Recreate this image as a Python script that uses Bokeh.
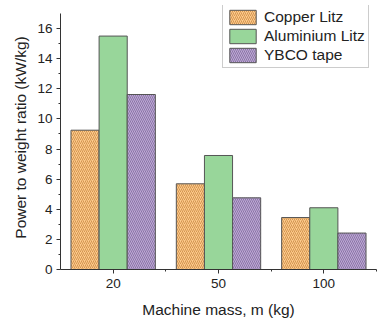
from bokeh.plotting import figure
from bokeh.models import Range1d, FixedTicker, Legend, LegendItem, ColumnDataSource
from bokeh.embed import file_html
from bokeh.resources import INLINE

categories = ["20", "50", "100"]
positions = [1, 2, 3]
copper = [9.25, 5.69, 3.45]
aluminium = [15.5, 7.57, 4.1]
ybco = [11.62, 4.76, 2.42]
series_names = ["Copper Litz", "Aluminium Litz", "YBCO tape"]

bar_w = 0.267
FONT = "Liberation Sans"

p = figure(width=378, height=323, output_backend="svg", toolbar_location=None,
           x_range=Range1d(0.5, 3.5), y_range=Range1d(0, 17.53),
           min_border_left=60, min_border_right=2, min_border_top=5, min_border_bottom=54)
p.outline_line_color = None
p.xgrid.visible = False
p.ygrid.visible = False
p.background_fill_color = "white"
p.border_fill_color = "white"

styles = [
    dict(fill_color="#fdca8c", hatch_pattern="/", hatch_color="#d39550"),
    dict(fill_color="#98d69a", hatch_pattern=None, hatch_color="#98d69a"),
    dict(fill_color="#bfa8d6", hatch_pattern="\\", hatch_color="#8a76a6"),
]
offsets = [-bar_w, 0.0, bar_w]
renderers = []
for vals, st, off in zip([copper, aluminium, ybco], styles, offsets):
    src = ColumnDataSource(dict(x=[x + off for x in positions], top=vals))
    kw = dict(x="x", top="top", width=bar_w, source=src,
              fill_color=st["fill_color"], line_color="#555555", line_width=1)
    if st["hatch_pattern"]:
        kw.update(hatch_pattern=st["hatch_pattern"], hatch_color=st["hatch_color"],
                  hatch_scale=4, hatch_weight=1, hatch_alpha=1)
    r = p.vbar(**kw)
    renderers.append(r)

# axes
p.xaxis.ticker = FixedTicker(ticks=positions, minor_ticks=[1.5, 2.5, 3.5])
p.xaxis.major_label_overrides = {pos: c for pos, c in zip(positions, categories)}
p.yaxis.ticker = FixedTicker(ticks=list(range(0, 17, 2)), minor_ticks=list(range(1, 17, 2)))
p.yaxis.bounds = (0, 17.0)
for ax in (p.xaxis[0], p.yaxis[0]):
    ax.axis_line_color = "#333333"
    ax.major_tick_line_color = "#333333"
    ax.minor_tick_line_color = "#333333"
    ax.major_tick_in = 0
    ax.major_tick_out = 4
    ax.minor_tick_in = 0
    ax.minor_tick_out = 2
    ax.major_label_text_font = FONT
    ax.major_label_text_font_size = "13.5px"
    ax.major_label_text_color = "#222222"
    ax.axis_label_text_font = FONT
    ax.axis_label_text_font_size = "15.5px"
    ax.axis_label_text_font_style = "normal"
    ax.axis_label_text_color = "#222222"
p.xaxis.axis_label = "Machine mass, m (kg)"
p.yaxis.axis_label = "Power to weight ratio (kW/kg)"
p.xaxis.major_label_standoff = 5
p.yaxis.major_label_standoff = 4
p.xaxis.axis_label_standoff = 10
p.yaxis.axis_label_standoff = 5

legend = Legend(items=[LegendItem(label=n, renderers=[r]) for n, r in zip(series_names, renderers)],
                location=(162, 201))
legend.label_text_font = FONT
legend.label_text_font_size = "15.5px"
legend.label_text_color = "#222222"
legend.glyph_width = 33
legend.glyph_height = 18
legend.label_height = 18
legend.spacing = 1
legend.padding = 3
legend.margin = 0
legend.label_standoff = 5
legend.border_line_color = "#999999"
legend.border_line_width = 1
legend.background_fill_alpha = 1
p.add_layout(legend)

open("out.html", "w").write(file_html(p, INLINE))
